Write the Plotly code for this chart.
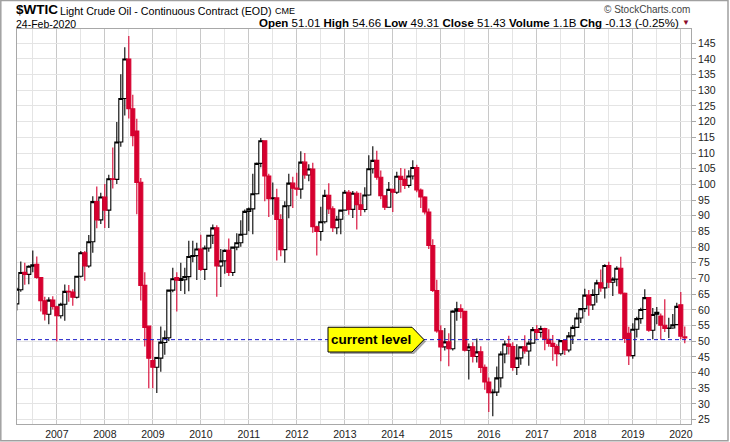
import pandas as pd
import plotly.graph_objects as go

# monthly candles, Mar 2006 .. Feb 2020 (one value per month)
MONTHS = pd.period_range("2006-03", "2020-02", freq="M")
YEARS = ["2007", "2008", "2009", "2010", "2011", "2012", "2013",
         "2014", "2015", "2016", "2017", "2018", "2019", "2020"]

OPEN = [
    61.9, 66.4, 72.0, 71.3, 73.9, 74.5, 70.3, 62.9, 58.6, 63.1,                 # 2006
    61.0, 58.1, 61.8, 65.9, 65.7, 64.0, 70.7, 78.2, 74.0, 81.7, 94.5, 88.7,     # 2007
    96.0, 91.8, 101.8, 101.6, 113.5, 127.4, 140.0, 124.1, 117.0, 100.7, 67.8, 54.8,
    43.8, 41.7, 44.6, 49.6, 51.1, 66.3, 70.3, 69.4, 69.6, 70.6, 77.0, 77.3,     # 2009
    79.4, 72.9, 79.7, 83.8, 86.15, 74.0, 75.6, 78.95, 71.9, 80.0, 81.4, 84.1,
    91.4, 92.2, 97.0, 106.7, 113.9, 102.7, 95.4, 95.7, 88.8, 79.2, 93.2, 100.4,
    98.8, 98.5, 107.1, 103.0, 104.9, 86.5, 85.0, 88.1, 96.5, 92.2, 86.2, 88.9,
    91.8, 97.5, 92.05, 97.2, 93.5, 92.0, 96.6, 105.0, 107.65, 102.3, 96.4, 92.7,
    98.4, 97.5, 102.6, 101.6, 99.7, 102.7, 105.4, 98.2, 96.0, 91.2, 80.5, 66.15,
    53.3, 48.2, 49.8, 47.6, 59.6, 60.3, 59.5, 47.1, 48.2, 45.1, 46.6, 41.65,    # 2015
    37.0, 33.6, 33.75, 38.3, 45.9, 49.1, 48.3, 41.6, 44.7, 48.2, 46.9, 49.4,
    53.7, 52.8, 54.0, 50.6, 49.3, 48.3, 46.0, 50.2, 47.2, 51.7, 54.4, 57.4,
    60.4, 64.7, 61.6, 64.9, 68.6, 67.0, 74.15, 68.8, 69.8, 73.25, 65.3, 52.5,
    45.4, 53.8, 57.2, 60.1, 63.9, 53.5, 59.2, 58.0, 55.1, 54.1, 54.2, 55.3,
    61.6, 51.01,                                                                # 2020
]
HIGH = [
    67.1, 75.4, 75.0, 74.2, 78.9, 77.0, 70.4, 64.2, 64.0, 64.3,
    61.3, 62.3, 68.1, 67.9, 66.6, 70.8, 78.8, 78.8, 83.9, 96.2, 99.3, 97.3,
    100.1, 103.1, 111.8, 119.9, 135.1, 143.7, 147.3, 128.6, 120.9, 102.0, 72.0, 54.8,
    50.5, 45.0, 54.7, 53.4, 66.5, 73.4, 72.0, 75.0, 73.4, 82.0, 82.0, 81.4,
    83.95, 80.5, 83.9, 87.2, 87.0, 79.4, 79.3, 82.75, 80.1, 84.4, 88.6, 92.0,
    92.6, 103.4, 107.0, 114.8, 114.0, 103.4, 100.6, 98.6, 90.5, 94.65, 103.4, 102.4,
    103.7, 110.55, 110.0, 106.4, 106.9, 86.8, 92.9, 98.3, 100.4, 93.0, 89.9, 91.9,
    98.2, 98.2, 97.9, 97.8, 97.3, 99.1, 109.3, 112.2, 110.7, 104.4, 96.5, 100.75,
    98.6, 104.0, 105.2, 105.0, 104.5, 107.7, 106.3, 98.7, 96.2, 92.3, 82.5, 69.6,
    55.1, 54.2, 52.5, 59.9, 62.6, 61.8, 59.7, 49.3, 49.7, 50.9, 48.4, 42.6,
    38.4, 34.7, 41.9, 46.8, 50.2, 51.7, 49.7, 49.0, 48.4, 51.9, 50.2, 54.5,
    55.2, 54.9, 54.3, 53.8, 52.0, 49.0, 50.4, 50.3, 52.9, 55.2, 59.1, 60.5,
    66.7, 66.3, 66.6, 69.6, 72.9, 74.5, 75.3, 70.4, 73.9, 76.9, 65.5, 54.6,
    55.75, 57.8, 60.7, 66.6, 64.0, 60.6, 60.9, 58.8, 63.4, 57.5, 58.7, 62.3,
    65.65, 54.66,
]
LOW = [
    59.8, 65.8, 68.0, 68.2, 72.0, 69.9, 59.5, 56.6, 55.4, 60.1,
    49.9, 57.2, 56.5, 62.6, 61.3, 63.6, 70.3, 69.3, 73.4, 78.2, 86.0, 87.4,
    86.1, 86.1, 98.7, 100.1, 112.0, 122.0, 121.0, 112.2, 90.5, 63.0, 48.3, 35.0,
    35.0, 33.5, 40.3, 45.7, 50.1, 65.6, 59.5, 66.0, 65.05, 65.9, 75.2, 69.5,
    72.4, 69.5, 78.5, 81.0, 64.2, 67.3, 71.5, 70.8, 70.8, 79.0, 80.1, 84.0,
    85.1, 84.1, 96.8, 105.5, 94.6, 89.6, 90.3, 75.7, 77.1, 75.0, 89.2, 92.5,
    96.4, 95.4, 101.8, 101.0, 84.6, 77.3, 82.0, 87.5, 90.6, 84.8, 84.1, 84.1,
    91.8, 90.3, 89.3, 85.6, 89.9, 91.1, 96.4, 103.5, 101.5, 95.3, 91.8, 92.6,
    91.2, 96.9, 97.4, 98.5, 98.9, 101.6, 97.5, 92.5, 90.4, 79.4, 65.7, 52.7,
    43.6, 47.0, 42.0, 47.0, 56.5, 57.3, 46.7, 37.75, 43.2, 43.2, 39.9, 34.5,
    27.4, 26.05, 32.5, 35.2, 43.0, 45.8, 40.6, 39.2, 42.5, 46.0, 42.2, 49.4,
    50.7, 51.2, 47.1, 48.2, 43.8, 42.05, 45.4, 45.6, 46.5, 49.1, 54.2, 55.8,
    59.3, 58.1, 59.95, 62.3, 65.8, 63.6, 67.0, 64.4, 67.5, 64.9, 49.4, 42.4,
    44.4, 51.2, 55.6, 60.1, 53.0, 50.6, 55.4, 50.5, 52.95, 51.0, 54.0, 55.3,
    50.6, 49.31,
]
CLOSE = [
    66.6, 71.9, 71.3, 73.9, 74.4, 70.3, 62.9, 58.7, 63.1, 61.1,
    58.1, 61.8, 65.9, 65.7, 64.0, 70.7, 78.2, 74.0, 81.7, 94.5, 88.7, 96.0,
    91.8, 101.8, 101.6, 113.5, 127.4, 140.0, 124.1, 115.5, 100.6, 67.8, 54.4, 44.6,
    41.7, 44.8, 49.7, 51.1, 66.3, 69.9, 69.45, 70.0, 70.6, 77.0, 77.3, 79.4,
    72.9, 79.7, 83.8, 86.15, 74.0, 75.6, 78.95, 71.9, 80.0, 81.4, 84.1, 91.4,
    92.2, 97.0, 106.7, 113.9, 102.7, 95.4, 95.7, 88.8, 79.2, 93.2, 100.4, 98.8,
    98.5, 107.1, 103.0, 104.9, 86.5, 85.0, 88.1, 96.5, 92.2, 86.2, 88.9, 91.8,
    97.5, 92.05, 97.2, 93.5, 92.0, 96.6, 105.0, 107.65, 102.3, 96.4, 92.7, 98.4,
    97.5, 102.6, 101.6, 99.7, 102.7, 105.4, 98.2, 96.0, 91.2, 80.5, 66.15, 53.3,
    48.2, 49.8, 47.6, 59.6, 60.3, 59.5, 47.1, 48.2, 45.1, 46.6, 41.65, 37.0,
    33.6, 33.75, 38.3, 45.9, 49.1, 48.3, 41.6, 44.7, 48.2, 46.9, 49.4, 53.7,
    52.8, 54.0, 50.6, 49.3, 48.3, 46.0, 50.2, 47.2, 51.7, 54.4, 57.4, 60.4,
    64.7, 61.6, 64.9, 68.6, 67.0, 74.15, 68.8, 69.8, 73.25, 65.3, 50.9, 45.4,
    53.8, 57.2, 60.1, 63.9, 53.5, 58.5, 58.6, 55.1, 54.1, 54.2, 55.2, 61.1,
    51.56, 51.43,
]
PREV_CLOSE = 61.4        # Feb 2006 close, colours the first candle
CURRENT_LEVEL = 50.5
VOLUME = "1.1B"
DATE_TEXT = "24-Feb-2020"

RED = "#d6002f"
L, R, T, B = 17, 39, 29, 18
W, H = 730 - L - R, 442 - T - B


def px_x(px):
    return (px - L) / W


def px_y(py):
    return (442 - B - py) / H


idx = list(range(len(MONTHS)))
year_idx = [i for i, m in enumerate(MONTHS) if m.month == 1]
half_idx = [i for i, m in enumerate(MONTHS) if m.month == 7]

# StockCharts style: black/red by close vs previous close,
# hollow/filled by close vs open
prev = [PREV_CLOSE] + CLOSE[:-1]
up_idx = [i for i in idx if CLOSE[i] >= prev[i]]
dn_idx = [i for i in idx if CLOSE[i] < prev[i]]


def candles(sel, color):
    return go.Candlestick(
        x=sel,
        open=[OPEN[i] for i in sel], high=[HIGH[i] for i in sel],
        low=[LOW[i] for i in sel], close=[CLOSE[i] for i in sel],
        increasing=dict(line=dict(color=color, width=1.1), fillcolor="white"),
        decreasing=dict(line=dict(color=color, width=1.1), fillcolor=color),
        whiskerwidth=0, showlegend=False, hoverinfo="skip")


fig = go.Figure()
fig.add_trace(candles(up_idx, "#000000"))
fig.add_trace(candles(dn_idx, RED))

# dashed "current level" line and the yellow callout
lv = CURRENT_LEVEL
x0, x1, xt = 77.8, 98.8, 101.8
hh = 3.95
fig.add_shape(type="line", xref="paper", yref="y", x0=0, x1=1, y0=lv, y1=lv,
              line=dict(color="#1c1cc8", width=1, dash="4px,3px"), layer="above")
sx, sy = 0.5, -0.6
fig.add_shape(type="path", xref="x", yref="y", layer="above",
              path=f"M {x0+sx},{lv+hh+sy} L {x1+sx},{lv+hh+sy} L {xt+sx},{lv+sy} "
                   f"L {x1+sx},{lv-hh+sy} L {x0+sx},{lv-hh+sy} Z",
              fillcolor="rgba(0,0,0,0.35)", line=dict(width=0))
fig.add_shape(type="path", xref="x", yref="y", layer="above",
              path=f"M {x0},{lv+hh} L {x1},{lv+hh} L {xt},{lv} "
                   f"L {x1},{lv-hh} L {x0},{lv-hh} Z",
              fillcolor="#ffff00", line=dict(color="#000000", width=1))
fig.add_annotation(x=88.6, y=lv, xref="x", yref="y", text="<b>current level</b>",
                   showarrow=False, font=dict(size=13.5, color="#000000"))

# outer frame of the picture
fig.add_shape(type="rect", xref="paper", yref="paper",
              x0=px_x(0.8), x1=px_x(728), y0=px_y(440.8), y1=px_y(0.5),
              line=dict(color="#a0a0a0", width=1.5))

# header
chg = CLOSE[-1] - CLOSE[-2]
pct = chg / CLOSE[-2] * 100
head = (f"<b>Open</b> {OPEN[-1]:.2f} <b>High</b> {HIGH[-1]:.2f} "
        f"<b>Low</b> {LOW[-1]:.2f} <b>Close</b> {CLOSE[-1]:.2f} "
        f"<b>Volume</b> {VOLUME} <b>Chg</b> {chg:.2f} ({pct:.2f}%)")
texts = [
    ("<b>$WTIC</b>", 15, 10, "left", 13.5, "#000000"),
    ("Light Crude Oil - Continuous Contract (EOD)", 59, 11, "left", 10.7, "#000000"),
    ("CME", 274, 11.5, "left", 9, "#000000"),
    (DATE_TEXT, 15, 24.5, "left", 10.5, "#000000"),
    (head, 680, 23.5, "right", 11.5, "#000000"),
    ("\u25bc", 686, 23, "center", 8, "#8b0a2a"),
    ("\u00a9 StockCharts.com", 691, 9.5, "right", 10, "#444444"),
]
for txt, x, y, anchor, size, color in texts:
    fig.add_annotation(x=px_x(x), y=px_y(y), xref="paper", yref="paper",
                       text=txt, showarrow=False, xanchor=anchor,
                       yanchor="middle", borderpad=0,
                       font=dict(size=size, color=color))

fig.update_layout(
    width=730, height=442,
    margin=dict(l=L, r=R, t=T, b=B),
    paper_bgcolor="white", plot_bgcolor="white",
    font=dict(family="Liberation Sans, Arial, sans-serif", size=10.5,
              color="#222222"),
    boxgap=0, boxgroupgap=0,
    showlegend=False,
)
fig.update_xaxes(range=[0.05, 168.55], tickmode="array", tickvals=year_idx,
                 ticktext=YEARS, showgrid=True, gridcolor="#c8c8c8",
                 minor=dict(tickmode="array", tickvals=half_idx, showgrid=True,
                            gridcolor="#e4e4e4"),
                 rangeslider_visible=False, showline=True, mirror=True,
                 linecolor="#a8a8a8", zeroline=False, ticks="",
                 automargin=False)
fig.update_yaxes(side="right", range=[23.6, 149.55], dtick=5, tick0=0,
                 showgrid=True, gridcolor="#e4e4e4", ticks="outside", ticklen=4,
                 tickcolor="#a8a8a8", showline=True, mirror=True,
                 linecolor="#a8a8a8", zeroline=False, automargin=False)

# the page itself must not add a margin around the 730x442 figure
fig.write_html("out.html", config={"displayModeBar": False},
               post_script="document.body.style.margin='0';")
